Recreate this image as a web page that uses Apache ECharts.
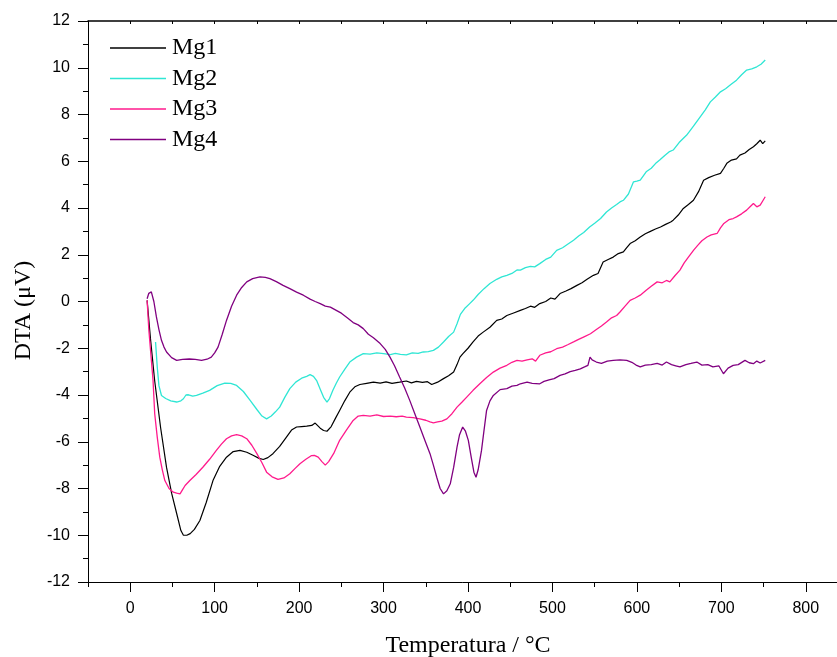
<!DOCTYPE html>
<html>
<head>
<meta charset="utf-8">
<script src="https://cdn.jsdelivr.net/npm/echarts@6/dist/echarts.min.js"></script>
<style>html,body{margin:0;padding:0;background:#fff}#c{width:837px;height:657px}</style>
</head>
<body>
<div id="c"></div>
<script>
var seriesNames = ['Mg1', 'Mg2', 'Mg3', 'Mg4'];
var xMajorTicks = [0, 100, 200, 300, 400, 500, 600, 700, 800];
var xMinorTicks = [-50, 50, 150, 250, 350, 450, 550, 650, 750];
var xTopTicks = [-50, 0, 50, 100, 150, 200, 250, 300, 350, 400, 450, 500, 550, 600, 650, 700, 750, 800];

var mg1 = [[20,0.05],[24,-1.6],[29,-3.4],[36,-5.4],[43,-7.1],[49,-8.2],[55,-9.07],[60,-9.8],[63,-10.0],[67,-10.0],[71,-9.93],[76,-9.75],[82.5,-9.37],[90,-8.6],[98,-7.66],[106,-7.05],[114,-6.66],[122,-6.42],[130,-6.37],[138,-6.45],[146,-6.59],[152,-6.7],[157.5,-6.76],[163,-6.68],[169,-6.51],[177,-6.2],[185,-5.8],[191,-5.5],[197,-5.37],[203,-5.35],[209,-5.33],[215,-5.3],[219,-5.2],[221,-5.23],[225,-5.42],[229,-5.52],[233,-5.55],[238,-5.35],[243,-5.0],[248,-4.66],[254,-4.25],[260,-3.88],[266,-3.65],[272,-3.55],[280,-3.5],[288,-3.45],[296,-3.49],[303,-3.44],[310,-3.5],[319,-3.45],[327,-3.4],[333,-3.48],[339,-3.42],[346,-3.46],[352,-3.43],[357,-3.55],[364,-3.45],[371,-3.3],[377,-3.18],[383,-3.02],[387,-2.7],[390.5,-2.38],[394,-2.23],[400,-2.0],[406,-1.73],[412,-1.48],[418,-1.31],[426,-1.1],[434,-0.81],[440,-0.75],[446,-0.6],[454,-0.49],[462,-0.38],[468,-0.3],[474,-0.2],[479,-0.25],[485,-0.09],[492,0.0],[498,0.15],[503,0.1],[509,0.34],[516,0.45],[522,0.55],[529,0.69],[535,0.8],[541,0.95],[548.5,1.12],[554,1.2],[560,1.69],[566,1.8],[572,1.9],[578,2.05],[584,2.12],[588,2.3],[592,2.48],[598,2.6],[604,2.76],[610,2.9],[616,3.0],[622,3.1],[628,3.19],[634,3.3],[640,3.4],[643,3.48],[649,3.7],[655,3.98],[661,4.15],[667,4.33],[673,4.7],[679,5.19],[685,5.3],[692,5.4],[699,5.48],[703,5.7],[706.5,5.91],[712,6.05],[718,6.1],[722,6.26],[728,6.35],[733,6.5],[738,6.62],[742,6.75],[746,6.9],[749,6.75],[752,6.87]];

var mg2 = [[30,-1.73],[32,-2.8],[34,-3.6],[37,-4.02],[42,-4.15],[48,-4.25],[55,-4.3],[60,-4.25],[63,-4.16],[66,-4.0],[69,-3.99],[74,-4.05],[78.5,-4.02],[86,-3.92],[94,-3.8],[103,-3.6],[112,-3.49],[119,-3.5],[126,-3.59],[134,-3.85],[142,-4.23],[150,-4.62],[156,-4.9],[161.5,-5.02],[167,-4.9],[172,-4.72],[177,-4.52],[183,-4.1],[189,-3.73],[196,-3.45],[203,-3.28],[209,-3.2],[213,-3.13],[217,-3.2],[221,-3.4],[225,-3.75],[229,-4.1],[233,-4.3],[236,-4.15],[240,-3.8],[244,-3.5],[248,-3.23],[254,-2.9],[260,-2.59],[268,-2.38],[276,-2.23],[284,-2.25],[292,-2.2],[300,-2.23],[308,-2.27],[314,-2.22],[320,-2.26],[327,-2.28],[334,-2.2],[341,-2.22],[347,-2.16],[353,-2.14],[359,-2.09],[365,-1.95],[371,-1.73],[377,-1.5],[383,-1.31],[387,-0.95],[391,-0.55],[396,-0.3],[402,-0.09],[406,0.05],[412,0.3],[419,0.55],[426,0.77],[434,0.95],[440,1.05],[446,1.12],[452,1.2],[458,1.35],[462,1.34],[468,1.45],[474,1.5],[479,1.48],[485,1.62],[492,1.8],[498,1.9],[505,2.19],[512,2.3],[518,2.45],[525,2.62],[531,2.8],[537,2.95],[544,3.19],[550,3.35],[557,3.55],[564,3.83],[570,4.0],[576,4.15],[580,4.26],[584,4.33],[590,4.6],[596,5.12],[600,5.15],[604,5.19],[611,5.55],[617,5.7],[622,5.9],[627,6.05],[633,6.25],[638,6.4],[643,6.48],[650,6.8],[659,7.12],[667,7.5],[675,7.9],[681,8.2],[687,8.54],[693,8.75],[699,8.97],[705,9.1],[712,9.3],[718,9.47],[724,9.7],[730,9.9],[736,9.95],[742,10.04],[747,10.15],[752,10.33]];

var mg3 = [[20,0.05],[22,-1.2],[25,-2.5],[27,-3.37],[29,-4.8],[32,-5.8],[35,-6.66],[38,-7.2],[41,-7.66],[46,-8.0],[51,-8.16],[55,-8.2],[59,-8.23],[62,-8.05],[65,-7.87],[70.6,-7.66],[78,-7.4],[86,-7.09],[94,-6.75],[102,-6.37],[108,-6.1],[114,-5.87],[120,-5.75],[126,-5.7],[132,-5.75],[138,-5.87],[144,-6.15],[150,-6.51],[156,-6.9],[161.5,-7.3],[168,-7.5],[175,-7.61],[182,-7.55],[189,-7.37],[195,-7.15],[201,-6.94],[208,-6.75],[214.8,-6.59],[218,-6.58],[222.6,-6.66],[227,-6.85],[231,-7.0],[235,-6.85],[241,-6.5],[248,-5.94],[256,-5.5],[264,-5.09],[270,-4.9],[276,-4.87],[284,-4.9],[292,-4.85],[300,-4.92],[308,-4.9],[315,-4.93],[322,-4.9],[327,-4.95],[335,-4.97],[343,-5.02],[350,-5.08],[355,-5.15],[359,-5.19],[364,-5.15],[369,-5.12],[375,-5.02],[381,-4.8],[387,-4.52],[393,-4.3],[398.5,-4.09],[406,-3.8],[414,-3.52],[422,-3.25],[430,-3.02],[438,-2.85],[446,-2.73],[452,-2.6],[458,-2.52],[464,-2.55],[470,-2.5],[476,-2.45],[480,-2.55],[485,-2.3],[492,-2.2],[498,-2.15],[505,-2.02],[512,-1.95],[518,-1.85],[525,-1.73],[531,-1.62],[538,-1.5],[545,-1.38],[552,-1.2],[558,-1.05],[564,-0.88],[570,-0.7],[576,-0.6],[580,-0.45],[586,-0.2],[592,0.05],[598,0.15],[604,0.27],[611,0.48],[617,0.65],[624,0.84],[630,0.8],[635,0.9],[639,0.84],[645,1.1],[651,1.34],[656,1.65],[661,1.9],[667,2.19],[672,2.4],[677,2.6],[683,2.76],[688,2.85],[695,2.91],[699,3.15],[703,3.34],[709,3.5],[714,3.55],[718,3.62],[724,3.75],[730,3.91],[734,4.05],[738,4.19],[742,4.05],[746,4.12],[749,4.3],[752,4.48]];

var mg4 = [[20,0.12],[22,0.35],[25,0.41],[28,0.0],[31,-0.66],[34,-1.2],[37,-1.66],[40,-1.95],[43,-2.16],[49,-2.4],[55,-2.52],[62,-2.48],[70,-2.46],[77,-2.48],[84.5,-2.52],[91,-2.47],[96,-2.38],[100,-2.2],[104,-1.95],[109,-1.4],[114,-0.81],[120,-0.2],[126,0.27],[132,0.6],[138,0.84],[145,0.98],[153.6,1.05],[160,1.03],[165.4,0.98],[173,0.85],[181,0.69],[189,0.55],[197,0.4],[205,0.27],[213,0.1],[219,0.0],[225,-0.09],[231,-0.2],[237,-0.24],[244,-0.38],[250,-0.5],[257,-0.7],[264,-0.9],[270,-1.0],[276,-1.16],[282,-1.4],[288,-1.55],[296,-1.8],[302,-2.05],[307.6,-2.38],[313,-2.75],[319,-3.23],[325,-3.7],[331,-4.23],[337,-4.8],[343,-5.37],[349,-5.95],[355,-6.51],[359,-7.0],[363,-7.52],[367,-8.0],[371,-8.23],[375,-8.1],[379,-7.8],[383,-7.1],[387,-6.23],[390,-5.7],[393.7,-5.37],[397,-5.55],[400.4,-5.94],[404,-6.7],[407,-7.3],[409.5,-7.52],[412,-7.2],[416,-6.37],[419,-5.5],[422,-4.66],[426,-4.25],[430,-4.02],[438,-3.77],[446,-3.73],[452,-3.62],[458,-3.59],[462,-3.52],[470,-3.45],[476,-3.5],[485,-3.52],[490,-3.42],[496,-3.35],[502,-3.3],[509,-3.16],[515,-3.1],[521,-3.0],[527,-2.95],[533,-2.88],[538,-2.8],[542,-2.73],[544.5,-2.38],[547,-2.5],[552,-2.59],[558,-2.65],[565,-2.55],[572,-2.52],[580,-2.5],[588,-2.52],[594,-2.6],[599,-2.72],[604,-2.8],[610,-2.72],[617,-2.7],[624,-2.65],[630,-2.72],[635,-2.59],[641,-2.7],[646,-2.75],[651,-2.8],[658,-2.7],[664,-2.65],[671,-2.59],[677,-2.72],[684,-2.7],[690,-2.8],[697,-2.75],[702.5,-3.09],[708,-2.85],[714,-2.73],[720,-2.7],[728,-2.52],[733,-2.62],[738,-2.66],[742,-2.55],[746,-2.63],[752,-2.52]];

var allData = [mg1, mg2, mg3, mg4];
var colors = ['#000000', '#2FE6D4', '#FF1A8C', '#800080'];
var widths = [1.2, 1.3, 1.3, 1.3];

var chart = echarts.init(document.getElementById('c'), null, {renderer: 'canvas'});
var sansFont = '"Liberation Sans", Arial, sans-serif';
var serifFont = '"Liberation Serif", "Times New Roman", serif';

var option = {
  backgroundColor: '#ffffff',
  animation: false,
  grid: {left: 88, top: 21, width: 760, height: 561, containLabel: false, outerBoundsMode: 'none'},
  legend: {
    data: seriesNames,
    orient: 'vertical',
    left: 105,
    top: 31,
    icon: 'rect',
    itemWidth: 56,
    itemHeight: 1.6,
    itemGap: 6.5,
    textStyle: {fontFamily: serifFont, fontSize: 24, color: '#000', lineHeight: 24, padding: [0, 0, 0, 1]}
  },
  xAxis: [
    {
      type: 'value', min: -50, max: 850, position: 'bottom',
      axisLine: {show: true, onZero: false, lineStyle: {color: '#000', width: 1}},
      axisTick: {show: true, length: 10, inside: false, customValues: xMajorTicks, lineStyle: {color: '#000', width: 1}},
      axisLabel: {show: true, customValues: xMajorTicks, fontFamily: sansFont, fontSize: 16, color: '#000', margin: 19},
      splitLine: {show: false},
      name: 'Temperatura / °C', nameLocation: 'middle', nameGap: 52,
      nameTextStyle: {fontFamily: serifFont, fontSize: 24, color: '#000'}
    },
    {
      type: 'value', min: -50, max: 850, position: 'bottom',
      axisLine: {show: false, onZero: false},
      axisTick: {show: true, length: 5, inside: false, customValues: xMinorTicks, lineStyle: {color: '#000', width: 1}},
      axisLabel: {show: false},
      splitLine: {show: false}
    },
    {
      type: 'value', min: -50, max: 850, position: 'top',
      axisLine: {show: true, onZero: false, lineStyle: {color: '#000', width: 1.5}},
      axisTick: {show: true, length: 3, inside: true, customValues: xTopTicks, lineStyle: {color: '#000', width: 1}},
      axisLabel: {show: false},
      splitLine: {show: false}
    }
  ],
  yAxis: [
    {
      type: 'value', min: -12, max: 12, interval: 2,
      axisLine: {show: true, onZero: false, lineStyle: {color: '#000', width: 1}},
      axisTick: {show: true, length: 10, inside: false, lineStyle: {color: '#000', width: 1}},
      minorTick: {show: true, splitNumber: 2, length: 5, lineStyle: {color: '#000', width: 1}},
      axisLabel: {fontFamily: sansFont, fontSize: 16, color: '#000', margin: 18},
      splitLine: {show: false},
      name: 'DTA (μV)', nameLocation: 'middle', nameGap: 52, nameRotate: 90,
      nameTextStyle: {fontFamily: serifFont, fontSize: 24, color: '#000', padding: [0, 18, 0, 0]}
    }
  ],
  series: allData.map(function (d, i) {
    return {
      name: seriesNames[i],
      type: 'line',
      xAxisIndex: 0,
      yAxisIndex: 0,
      data: d,
      showSymbol: false,
      symbol: 'none',
      smooth: false,
      lineStyle: {color: colors[i], width: widths[i]},
      itemStyle: {color: colors[i]}
    };
  })
};
chart.setOption(option);
</script>
</body>
</html>
